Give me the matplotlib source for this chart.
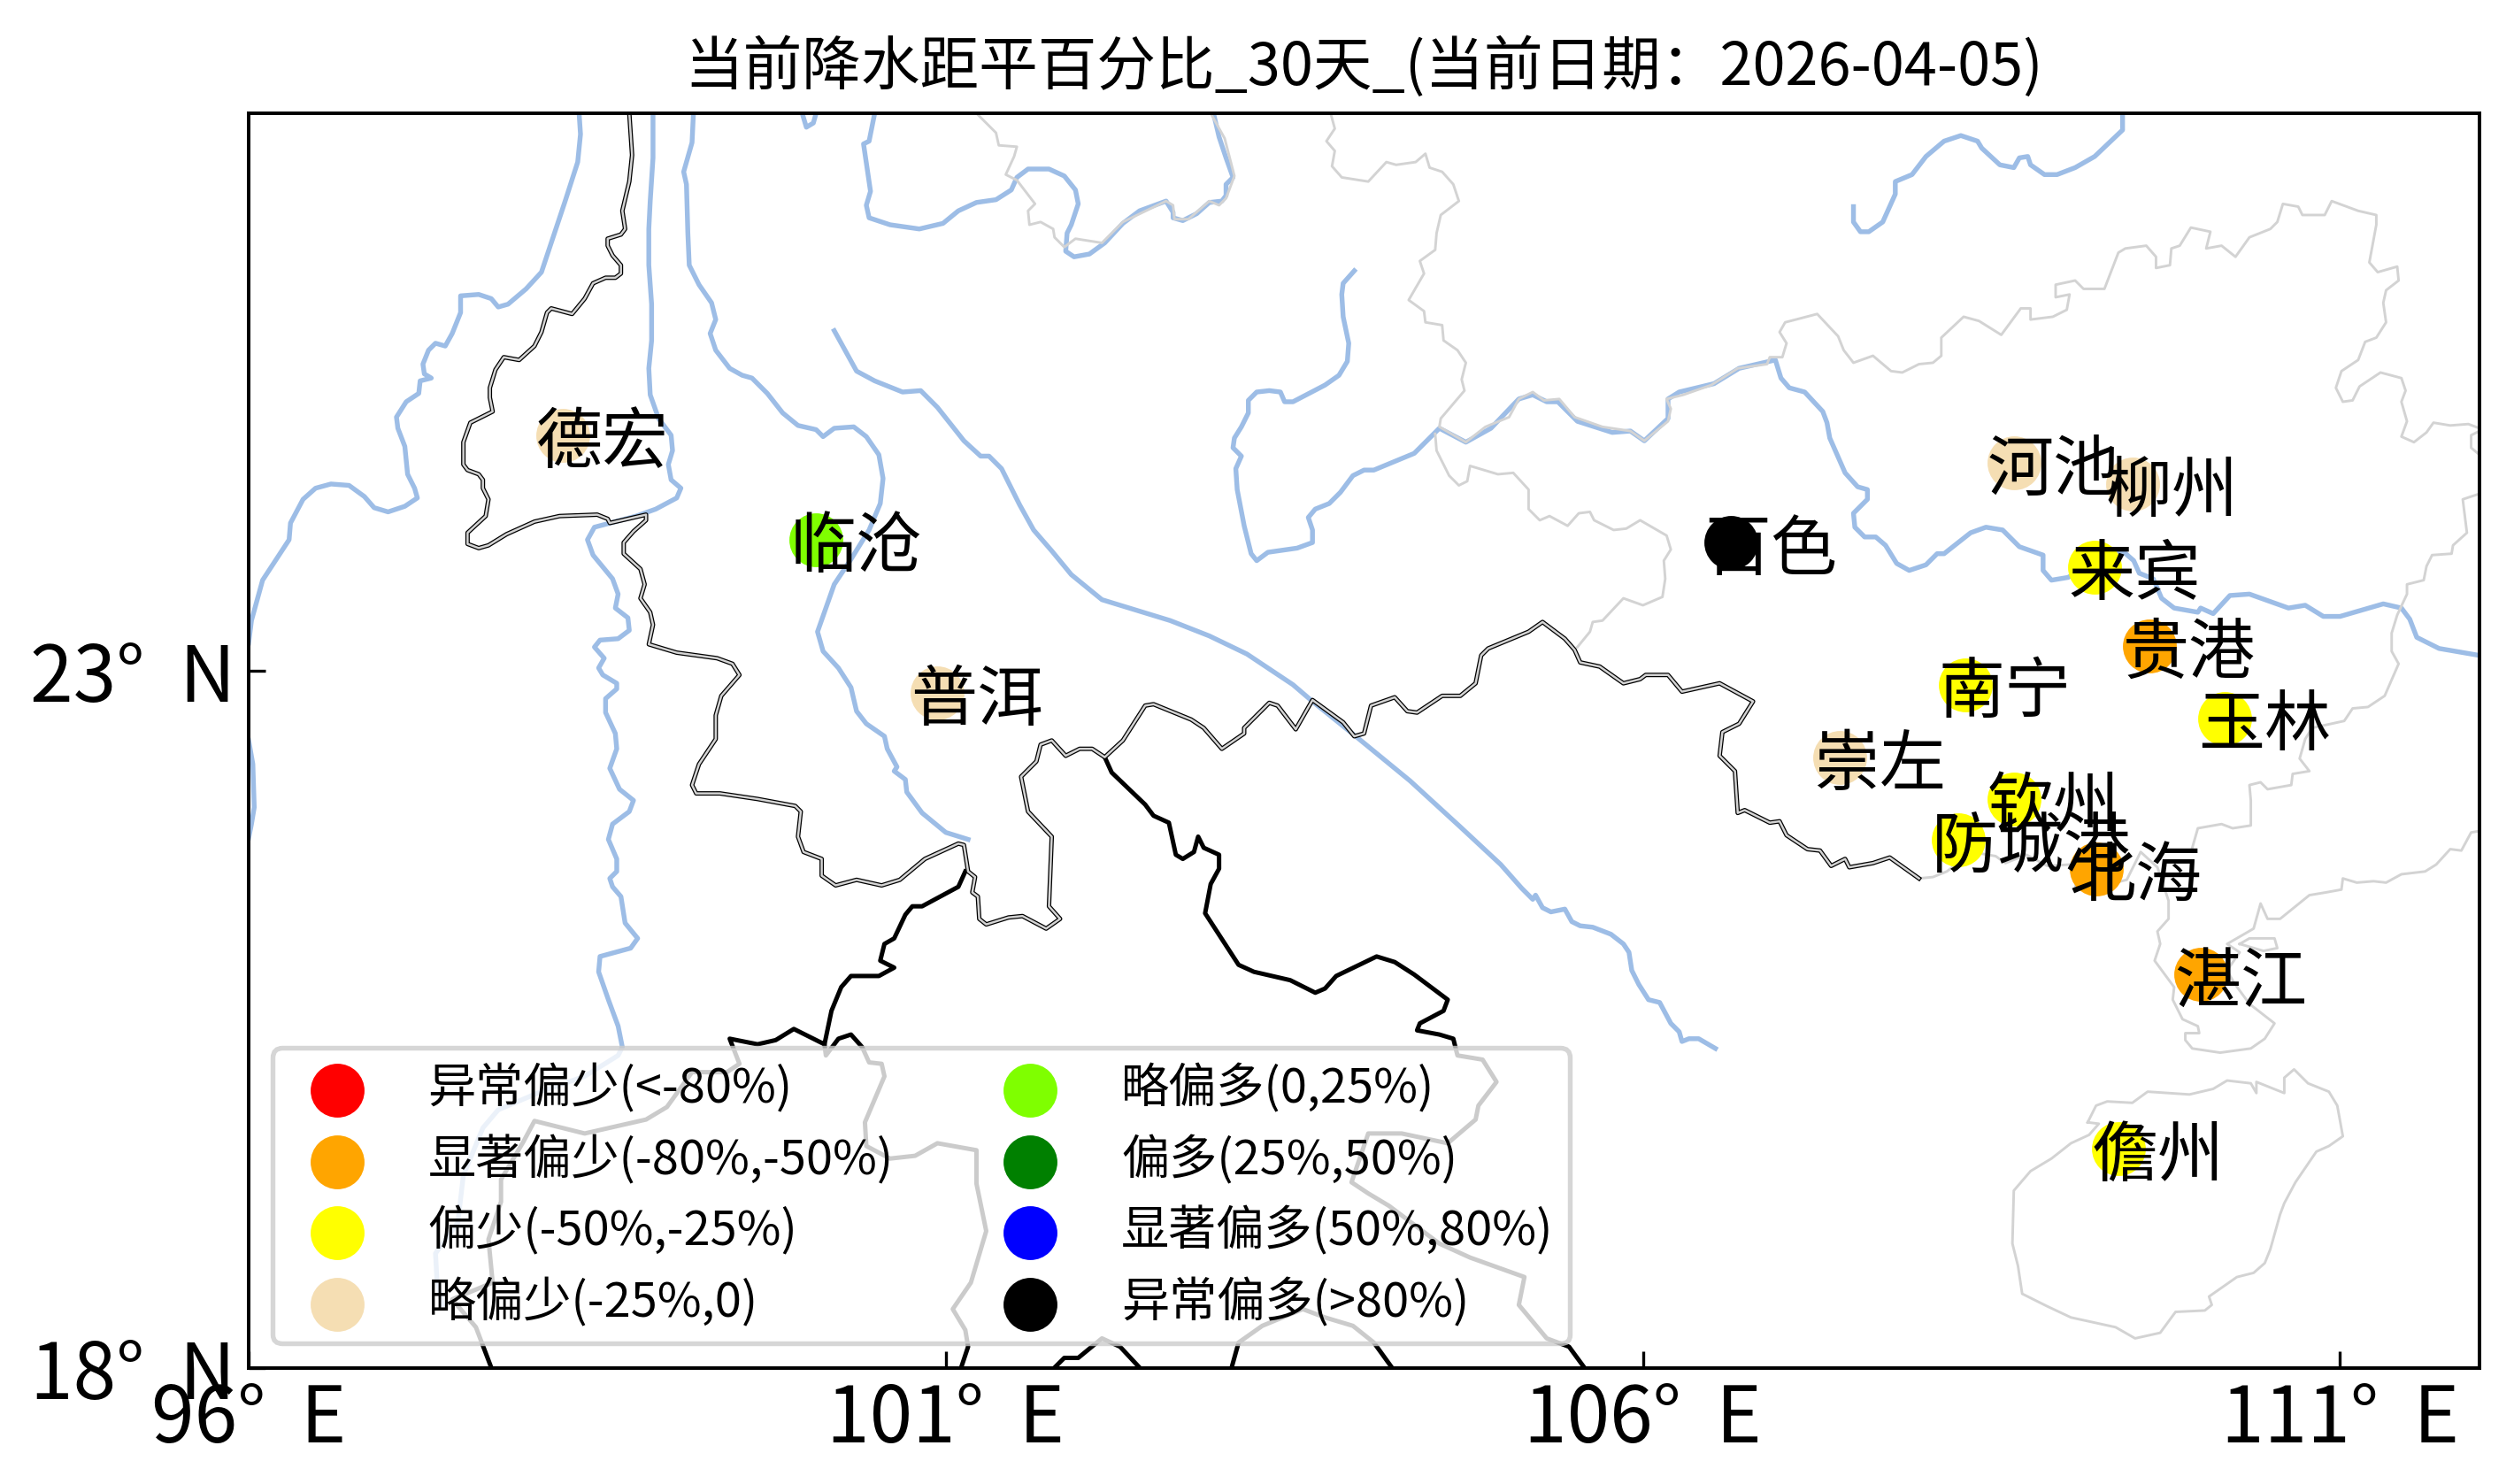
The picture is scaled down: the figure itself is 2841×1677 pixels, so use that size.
import matplotlib
matplotlib.use('Agg')
import matplotlib.pyplot as plt
import numpy as np

plt.rcParams['font.family'] = ['Noto Sans CJK SC', 'DejaVu Sans']
plt.rcParams['axes.unicode_minus'] = False
plt.rcParams['axes.linewidth'] = 0.95

# stations: name, lon, lat, class
names = ['德宏', '临沧', '普洱', '百色', '河池', '柳州', '来宾', '贵港', '南宁',
         '玉林', '崇左', '钦州', '防城港', '北海', '湛江', '儋州']
lons = [98.25, 100.07, 100.94, 106.63, 108.66, 109.51, 109.24, 109.63, 108.31,
        110.17, 107.41, 108.66, 108.26, 109.25, 110.0, 109.41]
lats = [24.69, 23.94, 22.84, 23.92, 24.49, 24.34, 23.74, 23.18, 22.90,
        22.66, 22.38, 22.08, 21.79, 21.58, 20.82, 19.57]
classes = [3, 4, 3, 7, 3, 3, 2, 1, 2, 2, 3, 2, 2, 1, 1, 2]

class_labels = ['异常偏少(<-80%)', '显著偏少(-80%,-50%)', '偏少(-50%,-25%)', '略偏少(-25%,0)',
                '略偏多(0,25%)', '偏多(25%,50%)', '显著偏多(50%,80%)', '异常偏多(>80%)']
class_colors = ['red', 'orange', 'yellow', 'wheat', 'chartreuse', 'green', 'blue', 'black']

# rivers, lon/lat
river_1 = [(98.37,27.0),(98.38,26.85),(98.36,26.65),(98.27,26.37),(98.17,26.07),(98.10,25.86),(97.99,25.74),(97.86,25.63),(97.79,25.61),(97.74,25.67),(97.65,25.70),(97.52,25.69),(97.52,25.57),(97.46,25.42),(97.41,25.33),(97.34,25.35),(97.29,25.30),(97.25,25.20),(97.26,25.13),(97.31,25.10),(97.23,25.08),(97.22,24.99),(97.13,24.93),(97.06,24.82),(97.07,24.74),(97.12,24.61),(97.14,24.41),(97.19,24.31),(97.21,24.24),(97.12,24.18),(97.00,24.14),(96.90,24.17),(96.83,24.25),(96.72,24.33),(96.59,24.34),(96.48,24.31),(96.39,24.23),(96.30,24.06),(96.29,23.94),(96.10,23.65),(96.02,23.36),(96.0,23.2)]
river_1b = [(96.0,22.5),(96.03,22.33),(96.04,22.02),(96.02,21.90),(96.0,21.8)]
river_2 = [(98.90,27.0),(98.90,26.68),(98.88,26.37),(98.87,26.17),(98.87,25.91),(98.89,25.63),(98.89,25.37),(98.87,25.17),(98.88,24.98),(98.94,24.81),(99.03,24.69),(99.04,24.58),(99.01,24.48),(99.03,24.37),(99.10,24.31),(99.07,24.24),(98.92,24.16),(98.78,24.11),(98.48,24.03),(98.43,23.94),(98.47,23.83),(98.61,23.66),(98.65,23.55),(98.63,23.45),(98.72,23.38),(98.73,23.29),(98.65,23.23),(98.52,23.22),(98.48,23.17),(98.55,23.09),(98.51,23.02),(98.54,22.97),(98.64,22.91),(98.64,22.87),(98.56,22.80),(98.56,22.70),(98.63,22.55),(98.64,22.44),(98.59,22.30),(98.66,22.15),(98.76,22.07),(98.73,21.99),(98.61,21.90),(98.58,21.79),(98.64,21.65),(98.64,21.56),(98.59,21.51),(98.61,21.45),(98.67,21.38),(98.70,21.19),(98.79,21.08),(98.74,21.01),(98.52,20.95),(98.51,20.84),(98.58,20.64),(98.65,20.45),(98.68,20.30),(98.65,20.24),(98.41,20.09),(98.12,19.99),(97.79,19.85),(97.68,19.72),(97.54,19.38),(97.50,19.04),(97.34,18.82),(97.35,18.64),(97.39,18.45)]
river_3 = [(99.19,27.0),(99.18,26.79),(99.12,26.58),(99.14,26.49),(99.15,26.14),(99.16,25.91),(99.23,25.77),(99.32,25.64),(99.35,25.52),(99.31,25.42),(99.35,25.30),(99.45,25.17),(99.54,25.12),(99.61,25.10),(99.72,24.99),(99.83,24.85),(99.94,24.76),(100.07,24.73),(100.12,24.68),(100.20,24.74),(100.34,24.75),(100.43,24.68),(100.52,24.55),(100.55,24.38),(100.53,24.20),(100.45,24.01),(100.32,23.80),(100.20,23.62),(100.08,23.28),(100.12,23.14),(100.23,23.02),(100.32,22.88),(100.36,22.71),(100.43,22.62),(100.56,22.53),(100.58,22.44),(100.65,22.31),(100.63,22.28),(100.71,22.22),(100.72,22.13),(100.83,21.98),(101.0,21.84),(101.16,21.79)]
river_4 = [(100.20,25.44),(100.36,25.15),(100.49,25.08),(100.69,25.0),(100.82,25.01),(100.94,24.89),(101.13,24.65),(101.25,24.54),(101.31,24.54),(101.40,24.45),(101.47,24.31),(101.53,24.19),(101.63,24.01),(101.76,23.86),(101.90,23.69),(102.12,23.51),(102.61,23.36),(102.89,23.25),(103.16,23.12),(103.49,22.90),(103.63,22.78),(103.94,22.53),(104.33,22.21),(104.69,21.88),(104.98,21.61),(105.13,21.44),(105.21,21.36),(105.23,21.39),(105.28,21.30),(105.34,21.27),(105.44,21.29),(105.49,21.20),(105.55,21.17),(105.64,21.16),(105.77,21.11),(105.86,21.04),(105.90,20.98),(105.92,20.85),(105.97,20.75),(106.04,20.64),(106.12,20.62),(106.20,20.47),(106.26,20.41),(106.28,20.34),(106.33,20.36),(106.40,20.36),(106.52,20.29)]
river_5 = [(99.97,27.0),(100.0,26.90),(100.05,26.93),(100.07,27.0)]
river_6 = [(100.49,27.0),(100.45,26.80),(100.41,26.78),(100.46,26.44),(100.43,26.34),(100.45,26.25),(100.60,26.20),(100.81,26.17),(100.98,26.21),(101.09,26.30),(101.22,26.36),(101.36,26.38),(101.47,26.45),(101.51,26.54),(101.59,26.60),(101.74,26.60),(101.85,26.55),(101.93,26.45),(101.95,26.35),(101.90,26.20),(101.87,26.14),(101.86,26.01),(101.92,25.97),(102.03,25.99),(102.14,26.07),(102.27,26.21),(102.39,26.30),(102.58,26.37),(102.63,26.29),(102.63,26.25),(102.70,26.23),(102.80,26.28),(102.89,26.36),(102.98,26.37),(103.01,26.41),(103.01,26.49),(103.06,26.54),(103.01,26.68),(102.96,26.83),(102.92,27.0)]
river_7 = [(103.93,25.87),(103.85,25.78),(103.84,25.70),(103.85,25.54),(103.89,25.35),(103.88,25.22),(103.82,25.12),(103.72,25.05),(103.49,24.93),(103.43,24.93),(103.40,25.0),(103.32,25.01),(103.23,25.0),(103.17,24.94),(103.17,24.85),(103.12,24.75),(103.07,24.67),(103.06,24.60),(103.12,24.54),(103.08,24.45),(103.09,24.30),(103.14,24.04),(103.19,23.84),(103.23,23.79),(103.31,23.85),(103.52,23.88),(103.63,23.92),(103.63,24.01),(103.60,24.10),(103.65,24.16),(103.75,24.20),(103.83,24.28),(103.92,24.40),(104.0,24.44),(104.07,24.44),(104.36,24.56),(104.54,24.74),(104.73,24.64),(104.91,24.74),(105.11,24.95),(105.21,24.98),(105.31,24.93),(105.39,24.93),(105.53,24.79),(105.78,24.71),(105.91,24.72),(106.01,24.65),(106.18,24.81),(106.18,24.95),(106.26,25.0),(106.51,25.06),(106.69,25.17),(106.95,25.23),(106.99,25.10),(107.05,25.03),(107.16,25.0),(107.29,24.86),(107.32,24.78),(107.34,24.67),(107.45,24.42),(107.54,24.32),(107.61,24.30),(107.61,24.23),(107.51,24.13),(107.52,24.03),(107.59,23.96),(107.67,23.96),(107.74,23.90),(107.82,23.77),(107.91,23.72),(108.03,23.76),(108.11,23.84),(108.16,23.84),(108.35,23.99),(108.46,24.03),(108.58,24.01),(108.70,23.89),(108.87,23.83),(108.87,23.72),(108.93,23.65),(109.05,23.67),(109.24,23.79),(109.44,23.86),(109.52,23.79),(109.56,23.70),(109.66,23.66),(109.72,23.52),(109.81,23.45),(109.98,23.42),(110.00,23.45),(110.09,23.41),(110.21,23.54),(110.35,23.55),(110.63,23.45),(110.75,23.47),(110.88,23.39),(111.0,23.39),(111.31,23.48),(111.44,23.45),(111.50,23.37),(111.55,23.24),(111.71,23.16),(112.0,23.11)]
river_8 = [(107.51,26.33),(107.51,26.22),(107.56,26.15),(107.62,26.15),(107.72,26.22),(107.81,26.42),(107.81,26.51),(107.93,26.56),(108.03,26.69),(108.16,26.80),(108.28,26.84),(108.40,26.80),(108.43,26.75),(108.56,26.63),(108.66,26.61),(108.70,26.68),(108.76,26.69),(108.78,26.63),(108.88,26.56),(108.97,26.56),(109.10,26.61),(109.24,26.69),(109.44,26.88),(109.44,27.0)]
rivers = [river_1, river_1b, river_2, river_3, river_4, river_5, river_6, river_7, river_8]

# national border of China (black with a light core)
china_border = [(98.73,27.0),(98.75,26.70),(98.73,26.51),(98.68,26.30),(98.70,26.17),(98.67,26.13),(98.575,26.10),(98.575,26.05),(98.61,25.98),(98.67,25.91),(98.67,25.85),(98.63,25.82),(98.56,25.82),(98.47,25.78),(98.41,25.67),(98.32,25.56),(98.17,25.60),(98.14,25.57),(98.10,25.43),(98.05,25.33),(97.94,25.23),(97.83,25.25),(97.77,25.16),(97.73,25.03),(97.73,24.96),(97.75,24.86),(97.59,24.78),(97.54,24.64),(97.54,24.48),(97.57,24.44),(97.65,24.41),(97.68,24.37),(97.68,24.31),(97.72,24.23),(97.70,24.11),(97.57,23.99),(97.57,23.91),(97.65,23.88),(97.72,23.90),(97.85,23.98),(98.05,24.07),(98.23,24.11),(98.50,24.12),(98.575,24.09),(98.59,24.06),(98.85,24.12),(98.85,24.08),(98.76,24.00),(98.69,23.92),(98.69,23.84),(98.81,23.73),(98.84,23.62),(98.81,23.52),(98.88,23.42),(98.90,23.33),(98.87,23.19),(99.07,23.13),(99.36,23.09),(99.47,23.05),(99.52,22.97),(99.39,22.82),(99.35,22.68),(99.35,22.51),(99.23,22.33),(99.18,22.18),(99.21,22.12),(99.38,22.12),(99.65,22.08),(99.92,22.03),(99.96,21.99),(99.94,21.81),(99.98,21.70),(100.11,21.65),(100.11,21.53),(100.21,21.46),(100.36,21.50),(100.54,21.46),(100.67,21.50),(100.85,21.65),(101.09,21.76),(101.13,21.75),(101.16,21.56),(101.21,21.52),(101.19,21.41),(101.23,21.38),(101.24,21.22),(101.29,21.18),(101.45,21.23),(101.55,21.24),(101.72,21.15),(101.82,21.22),(101.74,21.31),(101.76,21.81),(101.59,21.99),(101.54,22.24),(101.65,22.35),(101.68,22.47),(101.76,22.50),(101.86,22.39),(101.96,22.44),(102.05,22.44),(102.14,22.38),(102.27,22.50),(102.43,22.75),(102.49,22.76),(102.76,22.65),(102.85,22.59),(102.98,22.44),(103.14,22.55),(103.14,22.59),(103.32,22.77),(103.38,22.75),(103.51,22.58),(103.63,22.79),(103.85,22.63),(103.93,22.53),(104.0,22.55),(104.05,22.75),(104.22,22.81),(104.31,22.71),(104.38,22.70),(104.56,22.82),(104.69,22.82),(104.80,22.91),(104.84,23.11),(104.89,23.16),(105.18,23.28),(105.28,23.35),(105.44,23.23),(105.51,23.15),(105.55,23.06),(105.69,23.03),(105.86,22.91),(105.98,22.94),(106.02,22.97),(106.18,22.97),(106.28,22.85),(106.55,22.91),(106.79,22.78),(106.69,22.62),(106.57,22.56),(106.55,22.39),(106.66,22.28),(106.68,21.98),(106.73,22.0),(106.91,21.91),(106.98,21.92),(107.03,21.82),(107.18,21.72),(107.27,21.71),(107.35,21.60),(107.45,21.65),(107.48,21.59),(107.65,21.62),(107.77,21.66),(107.98,21.51)]

# other national borders, plain black
border_a = [(101.14,21.56),(101.09,21.45),(100.83,21.31),(100.76,21.31),(100.71,21.25),(100.63,21.08),(100.56,21.04),(100.53,20.92),(100.63,20.87),(100.52,20.81),(100.32,20.81),(100.25,20.73),(100.18,20.56),(100.13,20.32),(100.11,20.33),(99.91,20.43),(99.78,20.35),(99.65,20.32),(99.45,20.36),(99.52,20.18),(99.43,20.12),(99.18,20.12),(99.0,19.87),(98.85,19.78),(98.41,19.68),(98.05,19.77),(97.97,19.62),(97.81,19.35),(97.81,19.19),(97.72,18.92),(97.75,18.61),(97.46,18.49),(97.63,18.29),(97.74,18.0)]
border_b = [(100.13,20.32),(100.14,20.24),(100.23,20.36),(100.32,20.39),(100.40,20.30),(100.45,20.19),(100.54,20.18),(100.56,20.09),(100.42,19.76),(100.43,19.59),(100.60,19.50),(100.78,19.52),(100.94,19.61),(101.22,19.56),(101.22,19.32),(101.29,18.98),(101.18,18.61),(101.05,18.42),(101.14,18.27),(101.16,18.15),(101.11,18.0)]
border_c = [(102.14,22.38),(102.19,22.27),(102.43,22.04),(102.49,21.96),(102.60,21.91),(102.65,21.68),(102.70,21.65),(102.78,21.70),(102.81,21.81),(102.85,21.73),(102.96,21.68),(102.96,21.58),(102.90,21.47),(102.86,21.26),(103.10,20.89),(103.21,20.84),(103.47,20.78),(103.65,20.69),(103.72,20.72),(103.80,20.81),(104.09,20.95),(104.22,20.91),(104.36,20.82),(104.60,20.64),(104.57,20.56),(104.40,20.47),(104.38,20.42),(104.54,20.39),(104.64,20.36),(104.67,20.24),(104.85,20.21),(104.95,20.05),(104.82,19.88),(104.80,19.78),(104.60,19.61),(104.27,19.68),(104.03,19.68),(103.91,19.33),(104.03,19.25),(104.18,19.16),(104.54,18.89),(104.76,18.79),(105.15,18.65),(105.11,18.45),(105.31,18.21),(105.47,18.15),(105.58,18.0)]
border_d = [(101.78,18.0),(101.85,18.07),(101.95,18.07),(102.12,18.21),(102.25,18.15),(102.39,18.0)]
border_e = [(103.05,18.0),(103.10,18.18),(103.27,18.30),(103.56,18.42),(103.72,18.36),(103.92,18.30),(104.07,18.18),(104.20,18.0)]
black_borders = [border_a, border_b, border_c, border_d, border_e]

# province boundaries and coast, light grey
prov_1 = [(101.22,27.0),(101.36,26.86),(101.38,26.77),(101.51,26.76),(101.49,26.69),(101.43,26.56),(101.51,26.52),(101.64,26.35),(101.59,26.30),(101.60,26.20),(101.68,26.22),(101.77,26.17),(101.78,26.11),(101.85,26.04),(101.93,26.10),(102.12,26.07),(102.27,26.22),(102.58,26.37),(102.63,26.34),(102.64,26.24),(102.74,26.24),(102.89,26.37),(102.96,26.34),(103.01,26.39),(103.07,26.55),(103.0,26.82),(102.90,27.0)]
prov_2 = [(103.76,27.0),(103.79,26.89),(103.73,26.80),(103.79,26.73),(103.77,26.62),(103.84,26.54),(104.03,26.51),(104.16,26.65),(104.23,26.63),(104.37,26.65),(104.44,26.71),(104.47,26.61),(104.56,26.58),(104.64,26.49),(104.68,26.37),(104.55,26.27),(104.52,26.14),(104.51,26.02),(104.40,25.94),(104.43,25.85),(104.32,25.66),(104.43,25.58),(104.44,25.50),(104.56,25.48),(104.57,25.37),(104.67,25.30),(104.73,25.21),(104.70,25.09),(104.72,25.01),(104.55,24.81),(104.54,24.75),(104.73,24.64),(104.87,24.75),(105.04,24.82),(105.11,24.95),(105.21,25.0),(105.29,24.94),(105.40,24.95),(105.51,24.82),(105.71,24.75),(105.91,24.72),(106.01,24.65),(106.18,24.79),(106.20,24.88),(106.17,24.95),(106.29,24.98),(106.49,25.05),(106.68,25.17),(106.89,25.20),(106.91,25.25),(107.0,25.25),(107.03,25.35),(106.98,25.43),(107.02,25.50),(107.25,25.56),(107.40,25.40),(107.44,25.30),(107.51,25.21),(107.65,25.26),(107.78,25.15),(107.86,25.14),(107.98,25.20),(108.08,25.21),(108.14,25.26),(108.14,25.39),(108.30,25.54),(108.41,25.51),(108.57,25.41),(108.71,25.60),(108.78,25.60),(108.78,25.52),(108.94,25.54),(109.04,25.59),(109.06,25.70),(108.96,25.68),(108.96,25.77),(109.10,25.80),(109.16,25.74),(109.31,25.74),(109.41,26.0),(109.46,26.03),(109.61,26.05),(109.68,25.97),(109.68,25.89),(109.78,25.91),(109.79,26.03),(109.85,26.05),(109.93,26.18),(110.07,26.15),(110.04,26.03),(110.15,26.05),(110.25,25.97),(110.35,26.11),(110.50,26.17),(110.55,26.22),(110.59,26.35),(110.70,26.33),(110.73,26.27),(110.89,26.27),(110.94,26.37),(111.13,26.30),(111.26,26.27),(111.26,26.20),(111.21,25.93),(111.27,25.86),(111.41,25.90),(111.42,25.80),(111.33,25.73),(111.31,25.64),(111.33,25.50),(111.26,25.39),(111.18,25.36),(111.13,25.23),(111.01,25.15),(110.97,25.03),(111.02,24.93),(111.09,24.94),(111.14,25.04),(111.29,25.14),(111.44,25.10),(111.47,25.01),(111.44,24.93),(111.48,24.79),(111.44,24.68),(111.53,24.64),(111.62,24.71),(111.67,24.78),(111.79,24.76),(111.92,24.77),(112.0,24.74)]
prov_3 = [(112.0,24.72),(111.94,24.69),(111.94,24.60),(112.0,24.55)]
prov_4 = [(112.0,24.27),(111.88,24.23),(111.91,23.99),(111.81,23.90),(111.80,23.84),(111.66,23.83),(111.62,23.75),(111.60,23.65),(111.48,23.62),(111.48,23.55),(111.41,23.40),(111.37,23.27),(111.37,23.14),(111.42,23.05),(111.32,22.82),(111.20,22.74),(111.09,22.73),(111.03,22.64),(110.80,22.59),(110.75,22.51),(110.71,22.37),(110.78,22.28),(110.66,22.26),(110.65,22.18),(110.48,22.15),(110.43,22.20),(110.35,22.18),(110.36,22.07),(110.36,21.89),(110.23,21.87),(110.15,21.90),(109.98,21.87),(109.94,21.73)]
prov_5 = [(104.51,24.70),(104.52,24.58),(104.61,24.40),(104.68,24.33),(104.74,24.36),(104.76,24.47),(104.96,24.41),(105.07,24.42),(105.18,24.30),(105.18,24.16),(105.26,24.08),(105.33,24.11),(105.46,24.04),(105.54,24.13),(105.62,24.14),(105.65,24.08),(105.79,24.01),(105.88,24.02),(105.98,24.08),(106.17,23.97),(106.20,23.87),(106.15,23.79),(106.16,23.66),(106.14,23.53),(106.0,23.47),(105.86,23.52),(105.71,23.36),(105.64,23.35),(105.62,23.28),(105.53,23.17)]
coast = [(107.98,21.51),(108.08,21.52),(108.18,21.56),(108.36,21.70),(108.53,21.67),(108.6,21.62),(108.75,21.68),(108.9,21.6),(109.07,21.61),(109.14,21.56),(109.10,21.45),(109.27,21.45),(109.47,21.50),(109.57,21.70),(109.69,21.59),(109.77,21.35),(109.77,21.22),(109.69,21.13),(109.71,21.04),(109.67,20.92),(109.81,20.73),(109.80,20.64),(109.87,20.50),(109.98,20.45),(109.99,20.40),(109.89,20.40),(109.89,20.35),(109.94,20.29),(110.14,20.26),(110.36,20.29),(110.46,20.36),(110.53,20.47),(110.35,20.61),(110.24,20.76),(110.19,20.85),(110.28,20.98),(110.19,21.04),(110.38,21.15),(110.43,21.33),(110.48,21.22),(110.57,21.22),(110.78,21.39),(110.90,21.41),(111.01,21.43),(111.02,21.51),(111.12,21.48),(111.24,21.49),(111.33,21.48),(111.44,21.54),(111.61,21.56),(111.69,21.61),(111.79,21.72),(111.87,21.71),(111.94,21.84),(112.0,21.85)]
islet = [(110.28,21.04),(110.35,21.08),(110.53,21.08),(110.55,21.01),(110.45,20.99),(110.28,21.04)]
hainan = [(109.19,19.76),(109.25,19.88),(109.33,19.91),(109.51,19.90),(109.62,19.98),(109.92,19.96),(110.09,20.0),(110.19,20.06),(110.36,20.04),(110.40,19.97),(110.40,20.05),(110.60,19.97),(110.60,20.08),(110.67,20.14),(110.77,20.04),(110.92,19.98),(110.98,19.88),(111.02,19.66),(110.92,19.59),(110.83,19.55),(110.68,19.33),(110.60,19.18),(110.57,19.10),(110.50,18.85),(110.46,18.75),(110.38,18.68),(110.26,18.65),(110.16,18.58),(110.06,18.51),(110.08,18.45),(110.03,18.41),(109.82,18.40),(109.71,18.25),(109.53,18.21),(109.39,18.29),(109.07,18.36),(108.90,18.44),(108.72,18.53),(108.69,18.73),(108.65,18.89),(108.66,19.27),(108.78,19.41),(108.93,19.50),(109.07,19.61),(109.20,19.67),(109.27,19.75),(109.19,19.76)]
grey_lines = [prov_1, prov_2, prov_3, prov_4, prov_5, coast, islet, hainan]

xticks = [96, 101, 106, 111]
yticks = [18, 23]
title = '当前降水距平百分比_30天_(当前日期：2026-04-05)'

fig = plt.figure(figsize=(9.47, 5.59), dpi=300)
ax = fig.add_axes([281 / 2841, 1 - 1545.5 / 1677, 2521 / 2841, 1417.5 / 1677])


def draw(ax, line, **kw):
    arr = np.array(line)
    ax.plot(arr[:, 0], arr[:, 1], solid_joinstyle='round', **kw)


for line in rivers:
    draw(ax, line, color='#9dbde6', lw=1.3, zorder=1)
for line in grey_lines:
    draw(ax, line, color='lightgray', lw=0.7, zorder=2)
for line in black_borders:
    draw(ax, line, color='black', lw=1.2, zorder=2)
draw(ax, china_border, color='black', lw=1.2, zorder=2)
draw(ax, china_border, color='lightgray', lw=0.6, zorder=2.1)

for i, (label, color) in enumerate(zip(class_labels, class_colors)):
    idx = [k for k, c in enumerate(classes) if c == i]
    ax.scatter([lons[k] for k in idx], [lats[k] for k in idx], s=185, color=color,
               label=label, zorder=3)

for name, lon, lat in zip(names, lons, lats):
    ax.text(lon - 0.19, lat - 0.06, name, fontsize=18, ha='left', va='center', zorder=4)

ax.set_xlim(96, 112)
ax.set_ylim(18, 27)
ax.set_xticks(xticks)
ax.set_xticklabels([f'{v}°  E' for v in xticks])
ax.set_yticks(yticks)
ax.set_yticklabels([f'{v}°  N' for v in yticks])
ax.tick_params(axis='both', direction='in', labelsize=21, width=0.8, length=4.5)
ax.set_title(title, fontsize=16, pad=7.6)
leg = ax.legend(loc='lower left', ncol=2, fontsize=13, labelspacing=0.45, borderpad=0.34,
                columnspacing=1.85, handletextpad=0.9)
leg.get_frame().set_linewidth(1.3)

fig.savefig('out.png', dpi=300)
